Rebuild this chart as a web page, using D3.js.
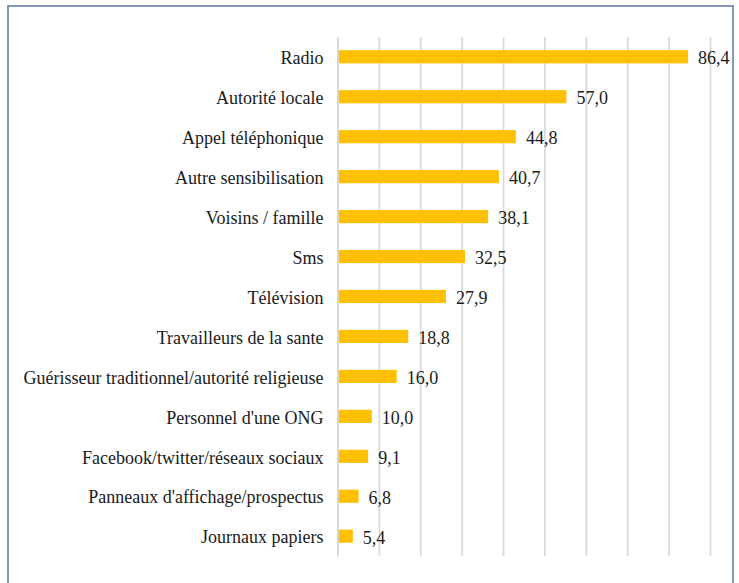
<!DOCTYPE html>
<html>
<head>
<meta charset="utf-8">
<script src="https://cdn.jsdelivr.net/npm/d3@7"></script>
<style>
  html, body { margin: 0; padding: 0; background: #fff; }
  svg { display: block; }
</style>
</head>
<body>
<div id="chart"></div>
<script>
// sources d'information (ordre d'affichage, du haut vers le bas)
var categories = [
  "Radio",
  "Autorité locale",
  "Appel téléphonique",
  "Autre sensibilisation",
  "Voisins / famille",
  "Sms",
  "Télévision",
  "Travailleurs de la sante",
  "Guérisseur traditionnel/autorité religieuse",
  "Personnel d'une ONG",
  "Facebook/twitter/réseaux sociaux",
  "Panneaux d'affichage/prospectus",
  "Journaux papiers"
];
var values = [86.4, 57.0, 44.8, 40.7, 38.1, 32.5, 27.9, 18.8, 16.0, 10.0, 9.1, 6.8, 5.4];
var valueLabels = ["86,4", "57,0", "44,8", "40,7", "38,1", "32,5", "27,9", "18,8", "16,0", "10,0", "9,1", "6,8", "5,4"];

var W = 739, H = 583;
var xMin = 1.7, xMax = 91.7;   // l'axe du graphique d'origine ne part pas de 0
var gridTicks = d3.range(xMin, xMax + 0.01, 10);
var FONT = "'Liberation Serif', serif";

function draw() {
  var svg = d3.select("#chart").append("svg")
      .attr("width", W)
      .attr("height", H);

  // cadre
  svg.append("rect")
      .attr("x", 8).attr("y", 6)
      .attr("width", 725).attr("height", 600)
      .attr("fill", "#fff")
      .attr("stroke", "#8197bb")
      .attr("stroke-width", 2);

  var x = d3.scaleLinear()
      .domain([xMin, xMax])
      .range([337.5, 710]);

  var y = d3.scaleBand()
      .domain(categories)
      .range([37, 556])
      .paddingInner(0.67)
      .paddingOuter(0.33);

  // grille verticale
  var xAxis = d3.axisBottom(x)
      .tickValues(gridTicks)
      .tickSize(-(556 - 37))
      .tickFormat("");

  var gx = svg.append("g")
      .attr("transform", "translate(0,556)")
      .call(xAxis);
  gx.select(".domain").remove();
  gx.selectAll(".tick line")
      .attr("stroke", "#d9d9d9")
      .attr("stroke-width", 1.75);

  // barres
  svg.append("g").selectAll("rect")
      .data(values)
      .enter().append("rect")
      .attr("x", x(xMin))
      .attr("y", function(d, i) { return y(categories[i]); })
      .attr("width", function(d) { return x(d) - x(xMin); })
      .attr("height", y.bandwidth())
      .attr("fill", "#ffc000");

  // axe vertical avec les libellés
  var yAxis = d3.axisLeft(y).tickSize(0).tickPadding(14);
  var gy = svg.append("g")
      .attr("transform", "translate(" + x(xMin) + ",0)")
      .call(yAxis);
  gy.select(".domain")
      .attr("stroke", "#d9d9d9")
      .attr("stroke-width", 1.75);
  var labels = gy.selectAll(".tick text")
      .style("font-family", FONT)
      .style("font-size", "18px")
      .attr("dy", "0.4em")
      .attr("fill", "#1a1a1a");

  // police un peu condensée comme dans l'original : le plus long libellé fait ~303px
  var longest = d3.max(labels.nodes(), function(n) { return n.getComputedTextLength(); });
  var ratio = Math.min(1, 303 / longest);
  labels.each(function() {
      var len = this.getComputedTextLength();
      d3.select(this)
          .attr("textLength", len * ratio)
          .attr("lengthAdjust", "spacingAndGlyphs");
  });

  // étiquettes de valeurs
  svg.append("g").selectAll("text")
      .data(values)
      .enter().append("text")
      .attr("x", function(d) { return x(d) + 10; })
      .attr("y", function(d, i) { return y(categories[i]) + y.bandwidth() / 2; })
      .attr("dy", "0.42em")
      .style("font-family", FONT)
      .style("font-size", "18px")
      .attr("fill", "#1a1a1a")
      .text(function(d, i) { return valueLabels[i]; });
}

// attendre que la police soit prête avant de mesurer les libellés
if (document.fonts && document.fonts.load) {
  document.fonts.load("18px 'Liberation Serif'").then(draw, draw);
} else {
  draw();
}
</script>
</body>
</html>
